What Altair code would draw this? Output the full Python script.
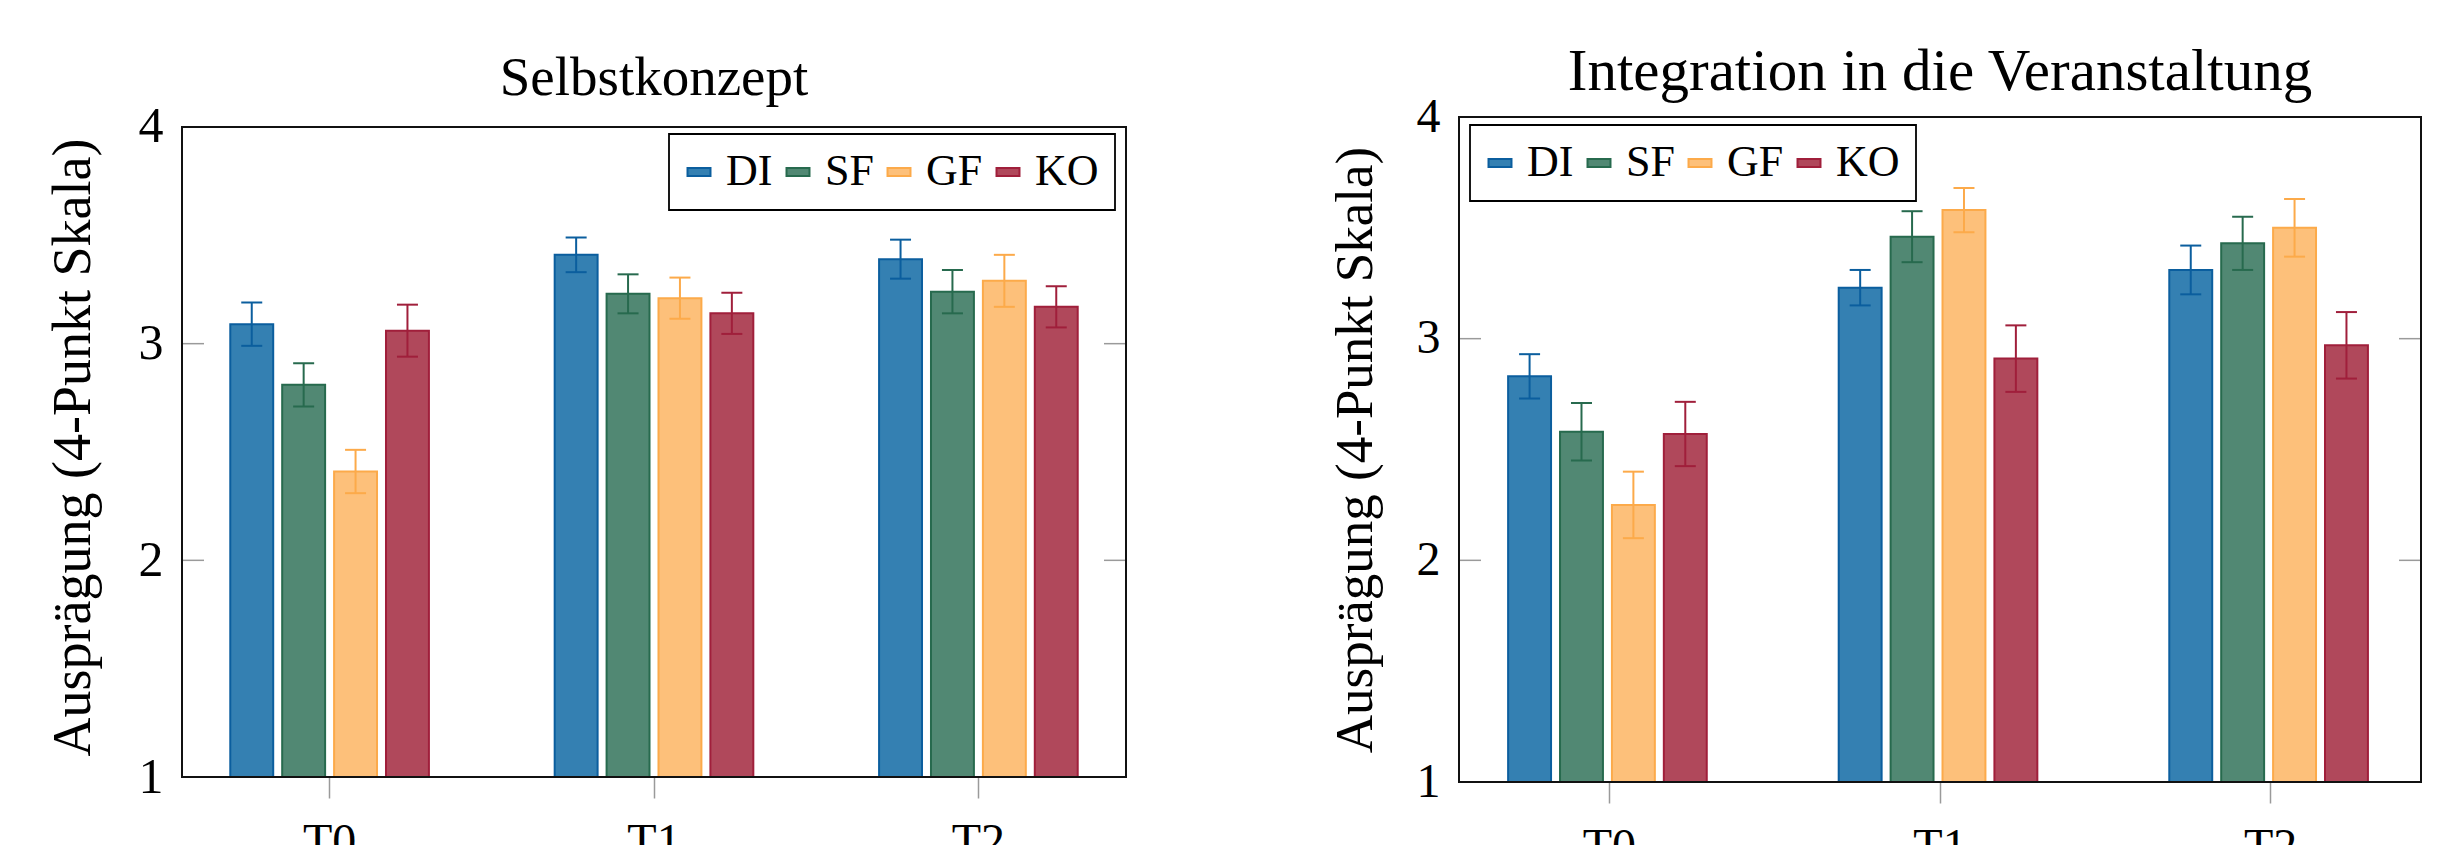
import altair as alt
import pandas as pd

times = ["T0", "T1", "T2"]
groups = ["DI", "SF", "GF", "KO"]
fill_colors = ["#3480B2", "#518873", "#FDC07A", "#B0485B"]
stroke_colors = ["#0B5E9E", "#276A4E", "#FCAA4A", "#A01F3B"]

# Selbstkonzept: means and error (half-width) per group, T0..T2
selbst_DI = [3.09, 3.41, 3.39]
selbst_SF = [2.81, 3.23, 3.24]
selbst_GF = [2.41, 3.21, 3.29]
selbst_KO = [3.06, 3.14, 3.17]
selbst_err_DI = [0.10, 0.08, 0.09]
selbst_err_SF = [0.10, 0.09, 0.10]
selbst_err_GF = [0.10, 0.095, 0.12]
selbst_err_KO = [0.12, 0.095, 0.095]

# Integration in die Veranstaltung
integ_DI = [2.83, 3.23, 3.31]
integ_SF = [2.58, 3.46, 3.43]
integ_GF = [2.25, 3.58, 3.50]
integ_KO = [2.57, 2.91, 2.97]
integ_err_DI = [0.10, 0.08, 0.11]
integ_err_SF = [0.13, 0.115, 0.12]
integ_err_GF = [0.15, 0.10, 0.13]
integ_err_KO = [0.145, 0.15, 0.15]

y_ticks = [2, 3]
y_values = [1, 2, 3, 4]
y_min, y_max = 1, 4
y_title = "Ausprägung (4-Punkt Skala)"
FONT = "Liberation Serif"


def make_df(means, errs):
    rows = []
    for g in groups:
        for i, t in enumerate(times):
            m = means[g][i]
            e = errs[g][i]
            rows.append({"time": t, "group": g, "mean": m, "lo": m - e, "hi": m + e})
    return pd.DataFrame(rows)


df_s = make_df(
    {"DI": selbst_DI, "SF": selbst_SF, "GF": selbst_GF, "KO": selbst_KO},
    {"DI": selbst_err_DI, "SF": selbst_err_SF, "GF": selbst_err_GF, "KO": selbst_err_KO},
)
df_i = make_df(
    {"DI": integ_DI, "SF": integ_SF, "GF": integ_GF, "KO": integ_KO},
    {"DI": integ_err_DI, "SF": integ_err_SF, "GF": integ_err_GF, "KO": integ_err_KO},
)
tick_df = pd.DataFrame({"v": y_ticks})
frame_df = pd.DataFrame({"top": [y_max], "bot": [y_min]})


def panel(df, title, W, H, dom_top, title_size, title_offset, ylab_size,
          ytitle_size, ytitle_pad, leg_x, leg_y):
    yscale = alt.Scale(domain=[y_min, dom_top], nice=False, zero=False)
    x = alt.X("time:N", sort=times,
              scale=alt.Scale(paddingInner=0.36, paddingOuter=0.135),
              axis=alt.Axis(title=None, labelAngle=0, labelFontSize=48,
                            labelFont=FONT, labelColor="black",
                            labelPadding=20, tickSize=21, tickColor="#9a9a9a",
                            tickWidth=1.5, domain=False, grid=False))
    xo = alt.XOffset("group:N", sort=groups,
                     scale=alt.Scale(paddingInner=0.173, paddingOuter=0.0865))
    base = alt.Chart(df)
    legend = alt.Legend(title=None, orient="none", legendX=leg_x, legendY=leg_y,
                        direction="horizontal",
                        symbolType="M-2,-0.7H2V0.7H-2Z", symbolSize=132,
                        symbolStrokeWidth=2, symbolOffset=-8,
                        labelFontSize=44, labelFont=FONT,
                        labelColor="black", labelOffset=5, columnPadding=9,
                        padding=16, strokeColor="black", fillColor="white",
                        symbolOpacity=1)
    yaxis = alt.Axis(values=y_values, title=y_title, ticks=False,
                     domain=False, grid=False, format="d",
                     labelFontSize=ylab_size, labelFont=FONT,
                     labelColor="black", labelPadding=19,
                     titleFontSize=ytitle_size, titleFont=FONT,
                     titleFontWeight="normal", titleColor="black",
                     titlePadding=ytitle_pad)
    bars = base.mark_bar(strokeWidth=2, opacity=1).encode(
        x=x, xOffset=xo,
        y=alt.Y("mean:Q", scale=yscale, axis=yaxis),
        y2=alt.datum(y_min),
        fill=alt.Fill("group:N", sort=groups,
                      scale=alt.Scale(domain=groups, range=fill_colors),
                      legend=legend),
        stroke=alt.Stroke("group:N", sort=groups,
                          scale=alt.Scale(domain=groups, range=stroke_colors),
                          legend=legend),
    )
    ecolor = alt.Color("group:N", sort=groups,
                       scale=alt.Scale(domain=groups, range=stroke_colors),
                       legend=None)
    rules = base.mark_rule(strokeWidth=2).encode(
        x=x, xOffset=xo,
        y=alt.Y("lo:Q", scale=yscale, title=y_title), y2="hi:Q", color=ecolor)
    caps_hi = base.mark_tick(thickness=2, size=21, opacity=1).encode(
        x=x, xOffset=xo, y=alt.Y("hi:Q", scale=yscale, title=y_title), color=ecolor)
    caps_lo = base.mark_tick(thickness=2, size=21, opacity=1).encode(
        x=x, xOffset=xo, y=alt.Y("lo:Q", scale=yscale, title=y_title), color=ecolor)
    tl = alt.Chart(tick_df).mark_rule(color="#9a9a9a", strokeWidth=1.5).encode(
        y=alt.Y("v:Q", scale=yscale, title=y_title), x=alt.value(0), x2=alt.value(22))
    tr = alt.Chart(tick_df).mark_rule(color="#9a9a9a", strokeWidth=1.5).encode(
        y=alt.Y("v:Q", scale=yscale, title=y_title), x=alt.value(W - 22), x2=alt.value(W))
    frame = alt.Chart(frame_df).mark_rect(fillOpacity=0, stroke="#111111",
                                          strokeWidth=2).encode(
        y=alt.Y("top:Q", scale=yscale, title=y_title), y2="bot:Q",
        x=alt.value(0), x2=alt.value(W))
    return alt.layer(bars, rules, caps_hi, caps_lo, tl, tr, frame).properties(
        width=W, height=H,
        title=alt.TitleParams(title, fontSize=title_size, font=FONT,
                              fontWeight="normal", color="black",
                              offset=title_offset, frame="group",
                              anchor="middle", baseline="alphabetic"),
    )


left = panel(df_s, "Selbstkonzept", 944, 660, 4 + 10 / 216.67, 55, -48.5, 50, 54, 38,
             487, 17)
right = panel(df_i, "Integration in die Veranstaltung", 962, 665, 4, 59, -56, 48, 53,
              34, 11, 8)

chart = alt.hconcat(left, right, spacing=200).resolve_scale(
    fill="independent", stroke="independent", color="independent"
).resolve_legend(
    fill="independent", stroke="independent", color="independent"
).properties(
    padding={"left": 37, "top": 34, "right": 5, "bottom": 0}
).configure(
    font=FONT
).configure_view(
    stroke="transparent"
).configure_legend(
    strokeWidth=1.8
)

chart.save("out.html", embed_options={"renderer": "svg", "actions": False})
